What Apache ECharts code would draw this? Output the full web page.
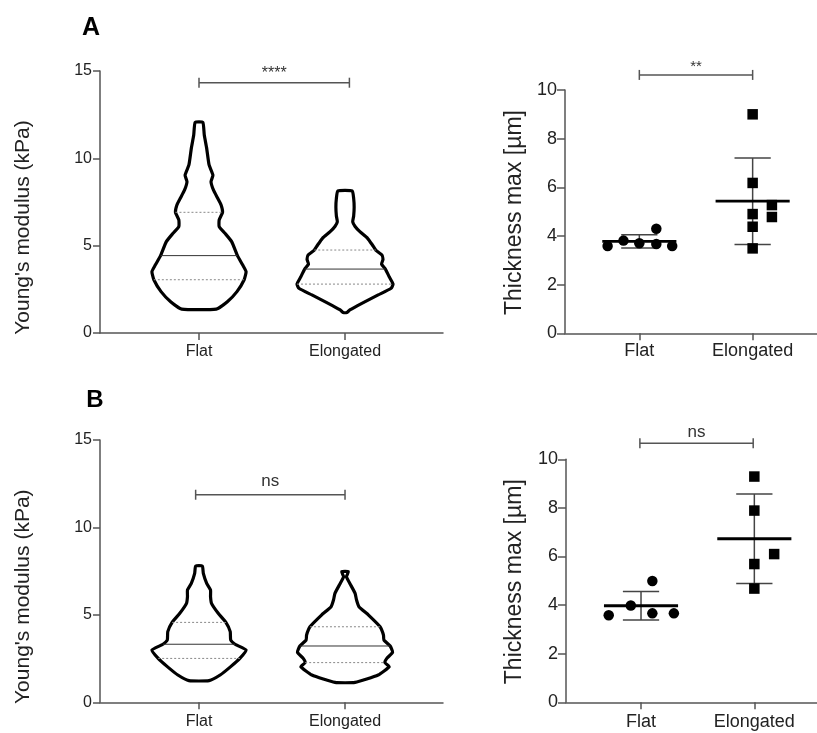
<!DOCTYPE html>
<html>
<head>
<meta charset="utf-8">
<script src="https://cdn.jsdelivr.net/npm/echarts@6/dist/echarts.min.js"></script>
<style>
  html, body { margin: 0; padding: 0; background: #fff; }
  #main { width: 817px; height: 733px; }
</style>
</head>
<body>
<div id="main"></div>
<script>
// groups on the x axis
const groups = ['Flat', 'Elongated'];

// ---- A: Young's modulus violins (value, relative half width) ----
const violinFlatA_y = [1.37, 1.79, 2.37, 3.05, 3.51, 3.89, 4.43, 5.23, 5.71, 6.09, 6.47, 6.91, 7.33, 7.71, 8.19, 8.66, 9.04, 9.62, 10.57, 11.33, 12.06];
const violinFlatA_w = [0.36, 0.59, 0.79, 0.94, 0.98, 0.91, 0.80, 0.68, 0.54, 0.42, 0.42, 0.49, 0.46, 0.39, 0.30, 0.25, 0.29, 0.21, 0.16, 0.11, 0.08];
const violinElongA_y = [1.18, 1.32, 1.70, 2.18, 2.56, 2.80, 3.22, 3.66, 3.95, 4.20, 4.46, 4.75, 5.04, 5.42, 5.80, 6.10, 6.37, 6.70, 7.20, 7.71, 8.13];
const violinElongA_w = [0.04, 0.10, 0.35, 0.69, 0.96, 1.00, 0.92, 0.84, 0.76, 0.79, 0.77, 0.64, 0.57, 0.47, 0.31, 0.21, 0.16, 0.18, 0.19, 0.18, 0.15];
const medianA = [4.43, 3.66];
const q1A = [3.05, 2.80];
const q3A = [6.91, 4.75];

// ---- B: Young's modulus violins ----
const violinFlatB_y = [1.24, 1.56, 2.04, 2.51, 2.99, 3.32, 3.56, 4.04, 4.57, 5.09, 5.66, 6.04, 6.42, 6.80, 7.37, 7.79];
const violinFlatB_w = [0.21, 0.44, 0.66, 0.85, 0.98, 0.75, 0.66, 0.65, 0.56, 0.40, 0.26, 0.24, 0.24, 0.16, 0.09, 0.07];
const violinElongB_y = [1.14, 1.56, 2.04, 2.27, 2.51, 2.86, 3.22, 3.56, 3.85, 4.32, 4.99, 5.47, 5.85, 6.23, 6.80, 7.18, 7.47];
const violinElongB_w = [0.21, 0.69, 0.92, 0.83, 0.87, 0.99, 0.94, 0.81, 0.80, 0.73, 0.49, 0.29, 0.24, 0.21, 0.10, 0.03, 0.07];
const medianB = [3.32, 3.22];
const q1B = [2.51, 2.27];
const q3B = [4.57, 4.32];

// ---- thickness max [µm], individual cells ----
const thickFlatA = [3.59, 3.81, 3.70, 4.30, 3.67, 3.59];
const jitterFlatA = [-0.28, -0.14, 0, 0.15, 0.15, 0.29];
const thickElongA = [9.0, 6.18, 4.90, 4.38, 3.49, 5.27, 4.78];
const jitterElongA = [0, 0, 0, 0, 0, 0.17, 0.17];
const thickFlatB = [3.58, 3.98, 4.99, 3.66, 3.66];
const jitterFlatB = [-0.285, -0.09, 0.10, 0.10, 0.29];
const thickElongB = [9.29, 7.89, 5.69, 4.68, 6.10];
const jitterElongB = [0, 0, 0, 0, 0.175];

// significance brackets: [from, to, y]
const sigViolinA = [1.0, 2.03, 14.33];
const sigScatterA = [1.0, 2.0, 10.62];
const sigViolinB = [0.977, 2.0, 11.87];
const sigScatterB = [0.99, 1.99, 10.66];
const sigLabels = ['****', '**', 'ns', 'ns'];

const FONT = '"Liberation Sans", Arial, sans-serif';
const AXIS_COLOR = '#555';
const VIOLIN_HALF = 0.329;   // x units for relative width 1
const MEAN_HALF = 0.327;
const CAP_HALF = 0.16;

function mean(a) { return a.reduce((s, v) => s + v, 0) / a.length; }
function sd(a) {
  const m = mean(a);
  return Math.sqrt(a.reduce((s, v) => s + (v - m) * (v - m), 0) / (a.length - 1));
}

const violinsA = [
  { y: violinFlatA_y, w: violinFlatA_w, med: medianA[0], q1: q1A[0], q3: q3A[0] },
  { y: violinElongA_y, w: violinElongA_w, med: medianA[1], q1: q1A[1], q3: q3A[1] }
];
const violinsB = [
  { y: violinFlatB_y, w: violinFlatB_w, med: medianB[0], q1: q1B[0], q3: q3B[0] },
  { y: violinElongB_y, w: violinElongB_w, med: medianB[1], q1: q1B[1], q3: q3B[1] }
];

// width of the outline at a given value (for the quartile lines)
function widthAt(v, val) {
  for (let i = 1; i < v.y.length; i++) {
    if (val <= v.y[i]) {
      const t = (val - v.y[i - 1]) / (v.y[i] - v.y[i - 1]);
      return v.w[i - 1] + t * (v.w[i] - v.w[i - 1]);
    }
  }
  return v.w[v.w.length - 1];
}

function violinSeries(grid, violins) {
  return {
    type: 'custom',
    xAxisIndex: grid, yAxisIndex: grid,
    data: [[1, 0], [2, 1]],
    renderItem: function (params, api) {
      const x = api.value(0);
      const v = violins[api.value(1)];
      const pts = [];
      for (let i = 0; i < v.y.length; i++) pts.push(api.coord([x + v.w[i] * VIOLIN_HALF, v.y[i]]));
      for (let i = v.y.length - 1; i >= 0; i--) pts.push(api.coord([x - v.w[i] * VIOLIN_HALF, v.y[i]]));
      const hline = function (val, style) {
        const hw = widthAt(v, val) * VIOLIN_HALF;
        const a = api.coord([x - hw, val]), b = api.coord([x + hw, val]);
        return { type: 'line', shape: { x1: a[0], y1: a[1], x2: b[0], y2: b[1] }, style: style };
      };
      return {
        type: 'group',
        children: [
          { type: 'polygon', shape: { points: pts, smooth: 0.15 }, style: { fill: '#fff', stroke: '#000', lineWidth: 3.2, lineJoin: 'round' } },
          hline(v.med, { stroke: '#333', lineWidth: 1 }),
          hline(v.q1, { stroke: '#888', lineWidth: 1, lineDash: [2, 2] }),
          hline(v.q3, { stroke: '#888', lineWidth: 1, lineDash: [2, 2] })
        ]
      };
    }
  };
}

function meanSdSeries(grid, sets) {
  return {
    type: 'custom',
    xAxisIndex: grid, yAxisIndex: grid,
    z: 1,
    data: sets.map((s, i) => [i + 1, mean(s), sd(s)]),
    renderItem: function (params, api) {
      const x = api.value(0), m = api.value(1), s = api.value(2);
      const seg = (x1, y1, x2, y2, style) => {
        const a = api.coord([x1, y1]), b = api.coord([x2, y2]);
        return { type: 'line', shape: { x1: a[0], y1: a[1], x2: b[0], y2: b[1] }, style: style };
      };
      const thin = { stroke: '#444', lineWidth: 1.5 };
      return {
        type: 'group',
        children: [
          seg(x, m - s, x, m + s, thin),
          seg(x - CAP_HALF, m + s, x + CAP_HALF, m + s, thin),
          seg(x - CAP_HALF, m - s, x + CAP_HALF, m - s, thin),
          seg(x - MEAN_HALF, m, x + MEAN_HALF, m, { stroke: '#000', lineWidth: 2.8 })
        ]
      };
    }
  };
}

function pointSeries(grid, pos, values, jitter, symbol) {
  return {
    type: 'scatter',
    xAxisIndex: grid, yAxisIndex: grid,
    z: 3,
    symbol: symbol,
    symbolSize: 10.5,
    itemStyle: { color: '#000', opacity: 1 },
    data: values.map((v, i) => [pos + jitter[i], v])
  };
}

function sigSeries(grid, bar, label, fontSize, gap) {
  return {
    type: 'custom',
    xAxisIndex: grid, yAxisIndex: grid,
    clip: false,
    data: [bar],
    renderItem: function (params, api) {
      const a = api.coord([api.value(0), api.value(2)]);
      const b = api.coord([api.value(1), api.value(2)]);
      const st = { stroke: '#555', lineWidth: 1.5 };
      return {
        type: 'group',
        children: [
          { type: 'line', shape: { x1: a[0], y1: a[1], x2: b[0], y2: b[1] }, style: st },
          { type: 'line', shape: { x1: a[0], y1: a[1] - 5, x2: a[0], y2: a[1] + 5 }, style: st },
          { type: 'line', shape: { x1: b[0], y1: b[1] - 5, x2: b[0], y2: b[1] + 5 }, style: st },
          { type: 'text', style: { text: label, x: (a[0] + b[0]) / 2, y: a[1] - gap, align: 'center', verticalAlign: 'middle', textAlign: 'center', textVerticalAlign: 'middle', fill: '#333', font: fontSize + 'px ' + FONT } }
        ]
      };
    }
  };
}

function xAxis(grid, min, max, fontSize, margin) {
  return {
    type: 'value', gridIndex: grid, min: min, max: max,
    axisLine: { show: true, onZero: false, lineStyle: { color: AXIS_COLOR, width: 1.5 } },
    axisTick: { show: true, customValues: [1, 2], length: 7, lineStyle: { color: AXIS_COLOR, width: 1.5 } },
    axisLabel: { show: true, customValues: [1, 2], formatter: v => groups[Math.round(v) - 1], fontSize: fontSize, fontFamily: FONT, color: '#222', margin: margin },
    splitLine: { show: false }
  };
}

function yAxis(grid, max, interval, fontSize, tickLen) {
  return {
    type: 'value', gridIndex: grid, min: 0, max: max, interval: interval,
    axisLine: { show: true, onZero: false, lineStyle: { color: AXIS_COLOR, width: 1.5 } },
    axisTick: { show: true, length: tickLen, lineStyle: { color: AXIS_COLOR, width: 1.5 } },
    axisLabel: { fontSize: fontSize, fontFamily: FONT, color: '#222', margin: 8 },
    splitLine: { show: false }
  };
}

function vText(x, y, text, size) {
  return { type: 'text', x: x, y: y, rotation: Math.PI / 2,
    style: { text: text, align: 'center', verticalAlign: 'middle', fill: '#222', font: size + 'px ' + FONT } };
}

const chart = echarts.init(document.getElementById('main'));
chart.setOption({
  animation: false,
  backgroundColor: '#fff',
  grid: [
    { left: 100, top: 71, width: 343, height: 262 },
    { left: 565, top: 90, width: 252, height: 243.3 },
    { left: 100, top: 440, width: 343, height: 262.3 },
    { left: 566, top: 459.3, width: 251, height: 243 }
  ],
  xAxis: [
    xAxis(0, 0.322, 2.671, 16, 11),
    xAxis(1, 0.344, 2.568, 18, 9),
    xAxis(2, 0.322, 2.671, 16, 11),
    xAxis(3, 0.338, 2.553, 18, 11)
  ],
  yAxis: [
    yAxis(0, 15, 5, 16, 7),
    yAxis(1, 10, 2, 18, 8),
    yAxis(2, 15, 5, 16, 7),
    yAxis(3, 10, 2, 18, 8)
  ],
  graphic: [
    { type: 'text', x: 91, y: 28, style: { text: 'A', align: 'center', verticalAlign: 'middle', fill: '#000', font: 'bold 25px ' + FONT } },
    { type: 'text', x: 95, y: 400, style: { text: 'B', align: 'center', verticalAlign: 'middle', fill: '#000', font: 'bold 24px ' + FONT } },
    vText(23, 227.5, "Young's modulus (kPa)", 21),
    vText(23, 596.7, "Young's modulus (kPa)", 21),
    vText(515, 212.5, 'Thickness max [µm]', 23),
    vText(515, 581.7, 'Thickness max [µm]', 23)
  ],
  series: [
    violinSeries(0, violinsA),
    violinSeries(2, violinsB),
    meanSdSeries(1, [thickFlatA, thickElongA]),
    meanSdSeries(3, [thickFlatB, thickElongB]),
    pointSeries(1, 1, thickFlatA, jitterFlatA, 'circle'),
    pointSeries(1, 2, thickElongA, jitterElongA, 'rect'),
    pointSeries(3, 1, thickFlatB, jitterFlatB, 'circle'),
    pointSeries(3, 2, thickElongB, jitterElongB, 'rect'),
    sigSeries(0, sigViolinA, sigLabels[0], 16, 9),
    sigSeries(1, sigScatterA, sigLabels[1], 15, 8),
    sigSeries(2, sigViolinB, sigLabels[2], 17, 13),
    sigSeries(3, sigScatterB, sigLabels[3], 17, 11)
  ]
});
</script>
</body>
</html>
